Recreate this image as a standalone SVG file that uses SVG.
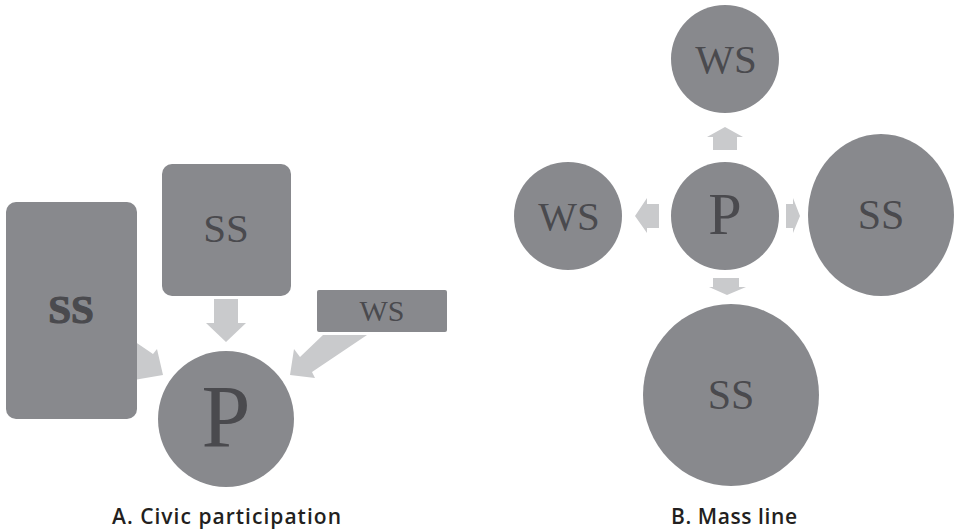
<svg xmlns="http://www.w3.org/2000/svg" width="958" height="532" viewBox="0 0 958 532">
<style>
.node{fill:#88898d}
.lbl{font-family:"Liberation Serif","Times New Roman",serif;fill:#4a4a4e;text-anchor:middle}
.bold{font-weight:700;stroke:#4a4a4e;stroke-width:1.2px}
.arr{fill:#c9cacc}
.cap{font-family:"Open Sans","Liberation Sans",Arial,sans-serif;font-size:21px;font-weight:600;fill:#231f20}
</style>
<rect width="958" height="532" fill="#ffffff"/>
<g id="connectors">
<polygon class="arr" points="128,337 153,354 157,349 163,375 128,381"/>
<polygon class="arr" points="214,299 238,299 238,323 246,323 226,342 206,323 214,323"/>
<polygon class="arr" points="323,335 367,335 312,372 315,378 290,375 294,349 300,357"/>
<polygon class="arr" points="713,150 737,150 737,137 743,137 725,127 707,137 713,137"/>
<polygon class="arr" points="659,204 659,228 647,228 647,233 635,216 647,198 647,204"/>
<polygon class="arr" points="786,204 793,204 793,198 800,216 793,233 793,228 786,228"/>
<polygon class="arr" points="713,278 739,278 739,287 746,287 727,295 709,287 713,287"/>
</g>
<g id="a-ss-left">
<rect class="node" x="6" y="202" width="131" height="217" rx="10"/>
<text class="lbl bold" x="71" y="323" font-size="41">SS</text>
</g>
<g id="a-ss-top">
<rect class="node" x="162" y="164" width="129" height="132" rx="10"/>
<text class="lbl" x="226" y="242" font-size="41">SS</text>
</g>
<g id="a-ws">
<rect class="node" x="317" y="290" width="130" height="42" rx="2"/>
<text class="lbl" x="382" y="321" font-size="30">WS</text>
</g>
<g id="a-p">
<circle class="node" cx="226" cy="419" r="68"/>
<text class="lbl" x="226" y="446" font-size="88">P</text>
</g>
<g id="b-ws-top">
<circle class="node" cx="725" cy="59" r="54"/>
<text class="lbl" x="726" y="73" font-size="41">WS</text>
</g>
<g id="b-p">
<circle class="node" cx="725" cy="216" r="54"/>
<text class="lbl" x="725" y="234" font-size="60">P</text>
</g>
<g id="b-ws-left">
<circle class="node" cx="568" cy="216" r="54"/>
<text class="lbl" x="569" y="230" font-size="41">WS</text>
</g>
<g id="b-ss-right">
<ellipse class="node" cx="881" cy="215" rx="73" ry="81"/>
<text class="lbl" x="881" y="229" font-size="42">SS</text>
</g>
<g id="b-ss-bottom">
<ellipse class="node" cx="731" cy="395" rx="88" ry="91"/>
<text class="lbl" x="731" y="409" font-size="42">SS</text>
</g>
<text class="cap" x="112" y="524" textLength="229" lengthAdjust="spacing">A. Civic participation</text>
<text class="cap" x="671" y="524" textLength="126" lengthAdjust="spacing">B. Mass line</text>
</svg>
